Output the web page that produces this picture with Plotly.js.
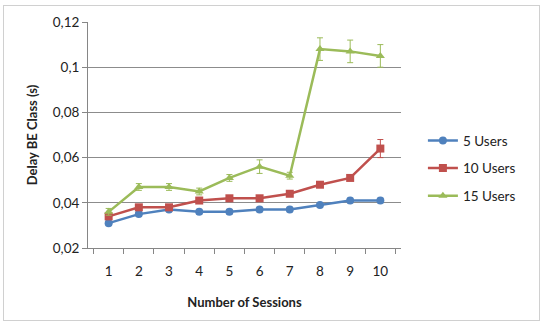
<!DOCTYPE html>
<html><head><meta charset="utf-8">
<script src="https://cdn.plot.ly/plotly-3.0.1.min.js"></script>
<style>html,body{margin:0;padding:0;background:#fff;}#frame{position:absolute;left:3px;top:5px;width:537px;height:316px;border:1px solid #d0d0d0;box-sizing:border-box;}#chart{position:absolute;left:0;top:0;width:547px;height:324px;}</style>
</head><body><div id="frame"></div><div id="chart"></div>
<script>
var sessions = ['1','2','3','4','5','6','7','8','9','10'];
var users5 = [0.031,0.035,0.037,0.036,0.036,0.037,0.037,0.039,0.041,0.041];
var users5Err = [0.001,0.001,0.001,0.001,0.001,0.001,0.001,0.001,0.001,0.001];
var users10 = [0.034,0.038,0.038,0.041,0.042,0.042,0.044,0.048,0.051,0.064];
var users10Err = [0.001,0.001,0.001,0.001,0.001,0.001,0.001,0.001,0.001,0.004];
var users15 = [0.036,0.047,0.047,0.045,0.051,0.056,0.052,0.108,0.107,0.105];
var users15Err = [0.0015,0.0015,0.0015,0.0015,0.0015,0.003,0.0015,0.005,0.005,0.005];
var yTickVals = [0.02,0.04,0.06,0.08,0.1,0.12];
var yTickText = ['0,02','0,04','0,06','0,08','0,1','0,12'];

function tr(name, y, err, color, symbol, size){
  return {x: sessions, y: y, name: name, legendgroup: name, type:'scatter', mode:'lines+markers',
    line:{color:color, width:2.5}, marker:{color:color, symbol:symbol, size:size},
    error_y:{type:'data', array:err, visible:true, color:color, thickness:1, width:3}};
}
var data = [
  tr('5 Users', users5, users5Err, '#4F81BD', 'circle', 8),
  tr('10 Users', users10, users10Err, '#C0504D', 'square', 8),
  tr('15 Users', users15, users15Err, '#9BBB59', 'triangle-up', 8)
];
var layout = {
  width:547, height:324,
  margin:{l:88, r:146, t:22, b:76},
  paper_bgcolor:'rgba(0,0,0,0)', plot_bgcolor:'rgba(0,0,0,0)',
  font:{family:'Lato, "Open Sans", sans-serif', size:13.5, color:'#222'},
  xaxis:{type:'category', tickson:'boundaries', ticks:'outside', ticklen:5, tickcolor:'#868686',
    ticklabelstandoff:11,
    showline:true, linecolor:'#868686', linewidth:1, showgrid:false, zeroline:false,
    title:{text:'<b>Number of Sessions</b>', font:{size:13}, standoff:19}},
  yaxis:{range:[0.02,0.12], tickvals:yTickVals, ticktext:yTickText, ticks:'outside', ticklen:5,
    tickcolor:'#868686', showline:true, linecolor:'#868686', linewidth:1,
    showgrid:true, gridcolor:'#8c8c8c', gridwidth:1, zeroline:false,
    title:{text:'<b>Delay BE Class (s)</b>', font:{size:13}, standoff:12}},
  legend:{x:1.07, xanchor:'left', y:0.543, yanchor:'top', font:{size:13.5}, traceorder:'grouped',
    tracegroupgap:7, itemwidth:30, bgcolor:'rgba(0,0,0,0)'},
  showlegend:true
};
Plotly.newPlot('chart', data, layout, {displayModeBar:false, staticPlot:true});
</script></body></html>
